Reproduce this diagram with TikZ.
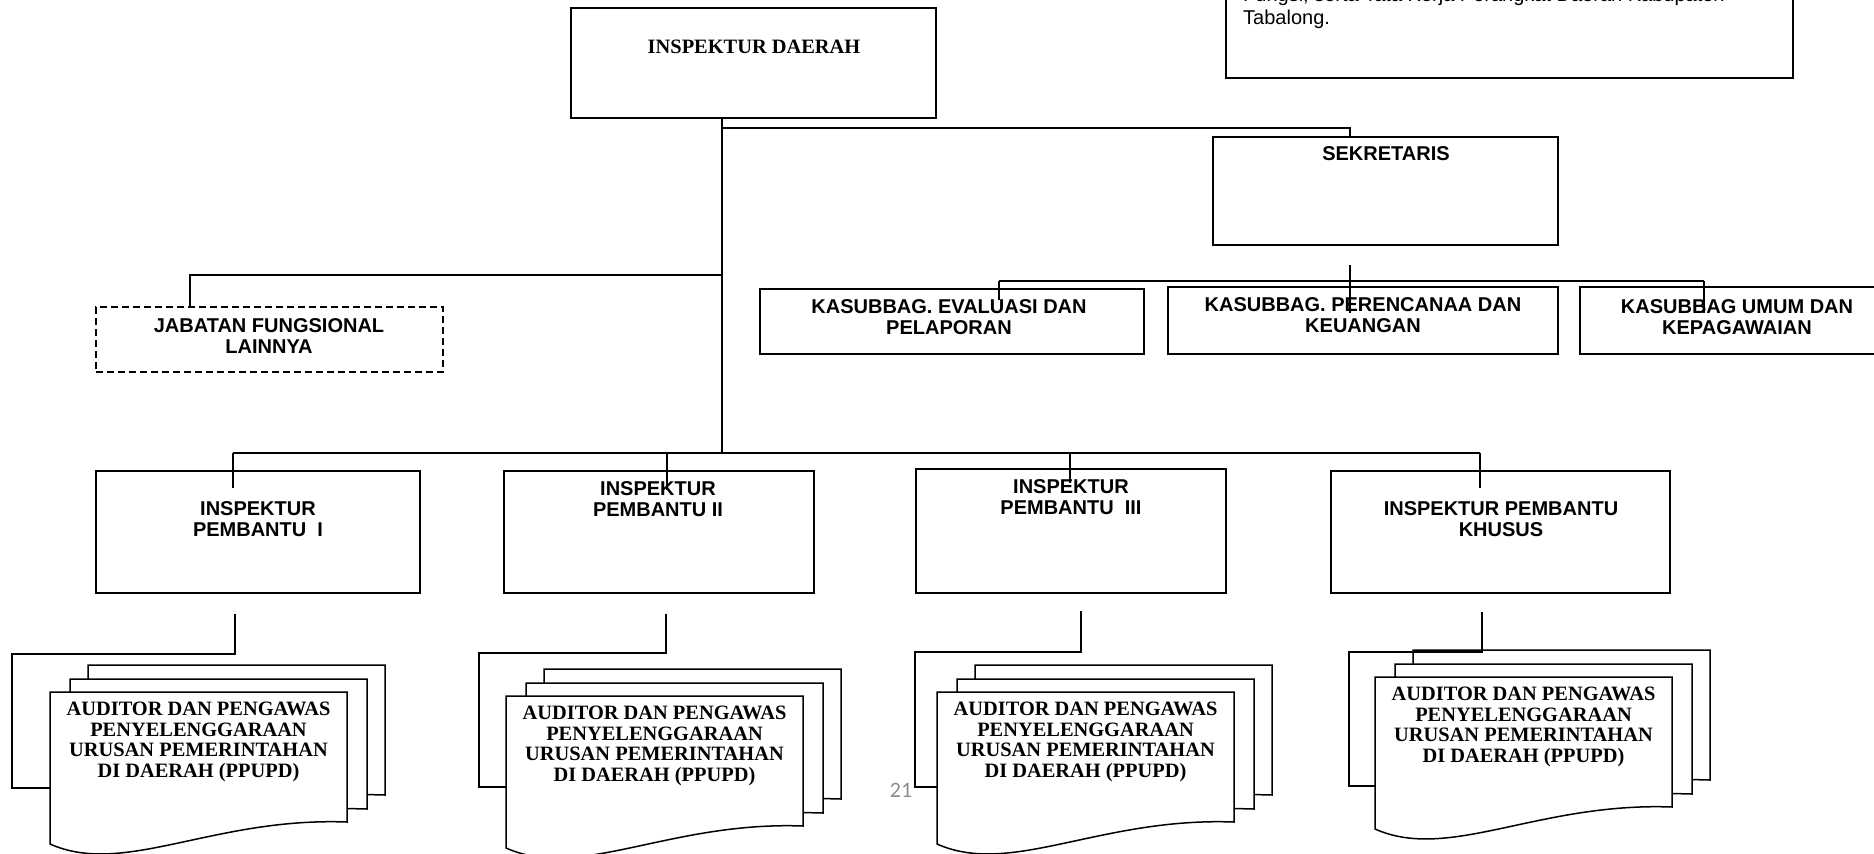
\documentclass[tikz,border=0pt]{standalone}
\usepackage{fontspec}
\setmainfont{Liberation Serif}
\setsansfont{Liberation Sans}
\newfontfamily\pgnumfont{Carlito}
\usetikzlibrary{fit}
\newcommand\docpage[2]{\draw[box] (#1,#2) -- ({#1+297},#2) -- ({#1+297},{#2+130}) .. controls ({#1+163},{#2+125}) and ({#1+74},{#2+185}) .. (#1,{#2+152}) -- cycle;}
\newcommand\docstack[3]{%
  \docpage{#1+38}{#2-27}
  \docpage{#1+20}{#2-13}
  \docpage{#1}{#2}
  \node[rtxt] (#3) at ({#1+148.5},{#2+50}) {AUDITOR DAN PENGAWAS\\PENYELENGGARAAN\\URUSAN PEMERINTAHAN\\DI DAERAH (PPUPD)};}
\begin{document}
\begin{tikzpicture}[x=1pt,y=-1pt,
  box/.style={draw, line width=1.5pt, inner sep=0pt, fill=white},
  dbox/.style={draw, line width=1.3pt, inner sep=0pt, dash pattern=on 7pt off 4pt},
  conn/.style={line width=1.5pt},
  stxt/.style={font=\sffamily\bfseries\fontsize{20}{20.5}\selectfont, align=center, inner sep=0pt},
  rtxt/.style={font=\rmfamily\bfseries\fontsize{20.4}{20.7}\selectfont, align=center, inner sep=0pt},
  ntxt/.style={font=\sffamily\fontsize{20}{23}\selectfont, inner sep=0pt, anchor=base west},
]
\useasboundingbox (0,0) rectangle (1874,854);
\clip (0,0) rectangle (1874,854);
\fill[white] (0,0) rectangle (1874,854);

% top boxes
\node[box, fit={(571,8) (936,118)}] (id) {};
\node[rtxt] (idt) at (754,47) {INSPEKTUR DAERAH};

\node[box, fit={(1226,-20) (1793,78)}] (note) {};
\node[ntxt] (notea) at (1243,1) {Fungsi, serta Tata Kerja Perangkat Daerah Kabupaten};
\node[ntxt] (noteb) at (1243,24) {Tabalong.};

\node[box, fit={(1213,137) (1558,245)}] (sek) {};
\node[stxt] (sekt) at (1386,154) {SEKRETARIS};

\node[box, fit={(760,289) (1144,354)}] (ks1) {};
\node[stxt] (ks1t) at (949,317) {KASUBBAG. EVALUASI DAN\\PELAPORAN};
\node[box, fit={(1168,287) (1558,354)}] (ks2) {};
\node[stxt] (ks2t) at (1363,315) {KASUBBAG. PERENCANAA DAN\\KEUANGAN};
\node[box, fit={(1580,287) (1900,354)}] (ks3) {};
\node[stxt] (ks3t) at (1737,317) {KASUBBAG UMUM DAN\\KEPAGAWAIAN};

\node[dbox, fit={(96,307) (443,372)}] (jab) {};
\node[stxt] (jabt) at (269,336) {JABATAN FUNGSIONAL\\LAINNYA};

% inspektur pembantu
\node[box, fit={(96,471) (420,593)}] (ip1) {};
\node[stxt] (ip1t) at (258,519) {INSPEKTUR\\PEMBANTU~~I};
\node[box, fit={(504,471) (814,593)}] (ip2) {};
\node[stxt] (ip2t) at (658,499) {INSPEKTUR\\PEMBANTU II};
\node[box, fit={(916,469) (1226,593)}] (ip3) {};
\node[stxt] (ip3t) at (1071,497) {INSPEKTUR\\PEMBANTU~~III};
\node[box, fit={(1331,471) (1670,593)}] (ip4) {};
\node[stxt] (ip4t) at (1501,519) {INSPEKTUR PEMBANTU\\KHUSUS};

% auditor stacks
\docstack{50}{692}{a1}
\docstack{506}{696}{a2}
\docstack{937}{692}{a3}
\docstack{1375}{677}{a4}

% connectors: top
\coordinate (bus) at (722,453);
\coordinate (j1) at (722,128);
\coordinate (s1) at (1350,137);
\coordinate (j2) at (722,275);
\coordinate (jb) at (190,307);
\draw[conn] (id.south -| bus) -- (bus);
\draw[conn] (j1) -| (s1);
\draw[conn] (j2) -| (jb);

% sekretaris children
\coordinate (k0) at (1350,265);
\coordinate (k0b) at (1350,313);
\coordinate (kl) at (999,281);
\coordinate (kr) at (1704,281);
\coordinate (k1) at (999,300);
\coordinate (k3) at (1704,313);
\draw[conn] (k0) -- (k0b);
\draw[conn] (kl) -- (kr);
\draw[conn] (kl) -- (k1);
\draw[conn] (kr) -- (k3);

% bus to inspektur pembantu
\coordinate (b1) at (233,453);
\coordinate (b2) at (667,453);
\coordinate (b3) at (1070,453);
\coordinate (b4) at (1480,453);
\coordinate (p1) at (233,488);
\coordinate (p2) at (667,490);
\coordinate (p3) at (1070,483);
\coordinate (p4) at (1480,488);
\draw[conn] (b1) -- (b4);
\draw[conn] (b1) -- (p1);
\draw[conn] (b2) -- (p2);
\draw[conn] (b3) -- (p3);
\draw[conn] (b4) -- (p4);

% inspektur pembantu to auditors
\coordinate (g1s) at (235,614);
\coordinate (g1k) at (12,654);
\coordinate (g1e) at (50,788);
\draw[conn] (g1s) |- (g1k) |- (g1e);
\coordinate (g2s) at (666,614);
\coordinate (g2k) at (479,653);
\coordinate (g2e) at (506,787);
\draw[conn] (g2s) |- (g2k) |- (g2e);
\coordinate (g3s) at (1081,611);
\coordinate (g3k) at (915,652);
\coordinate (g3e) at (937,787);
\draw[conn] (g3s) |- (g3k) |- (g3e);
\coordinate (g4s) at (1482,612);
\coordinate (g4k) at (1349,652);
\coordinate (g4e) at (1375,786);
\draw[conn] (g4s) |- (g4k) |- (g4e);

% page number
\node[font=\pgnumfont\fontsize{22}{22}\selectfont, text=black!45, inner sep=0pt] (pg) at (901,790) {21};
\end{tikzpicture}
\end{document}
